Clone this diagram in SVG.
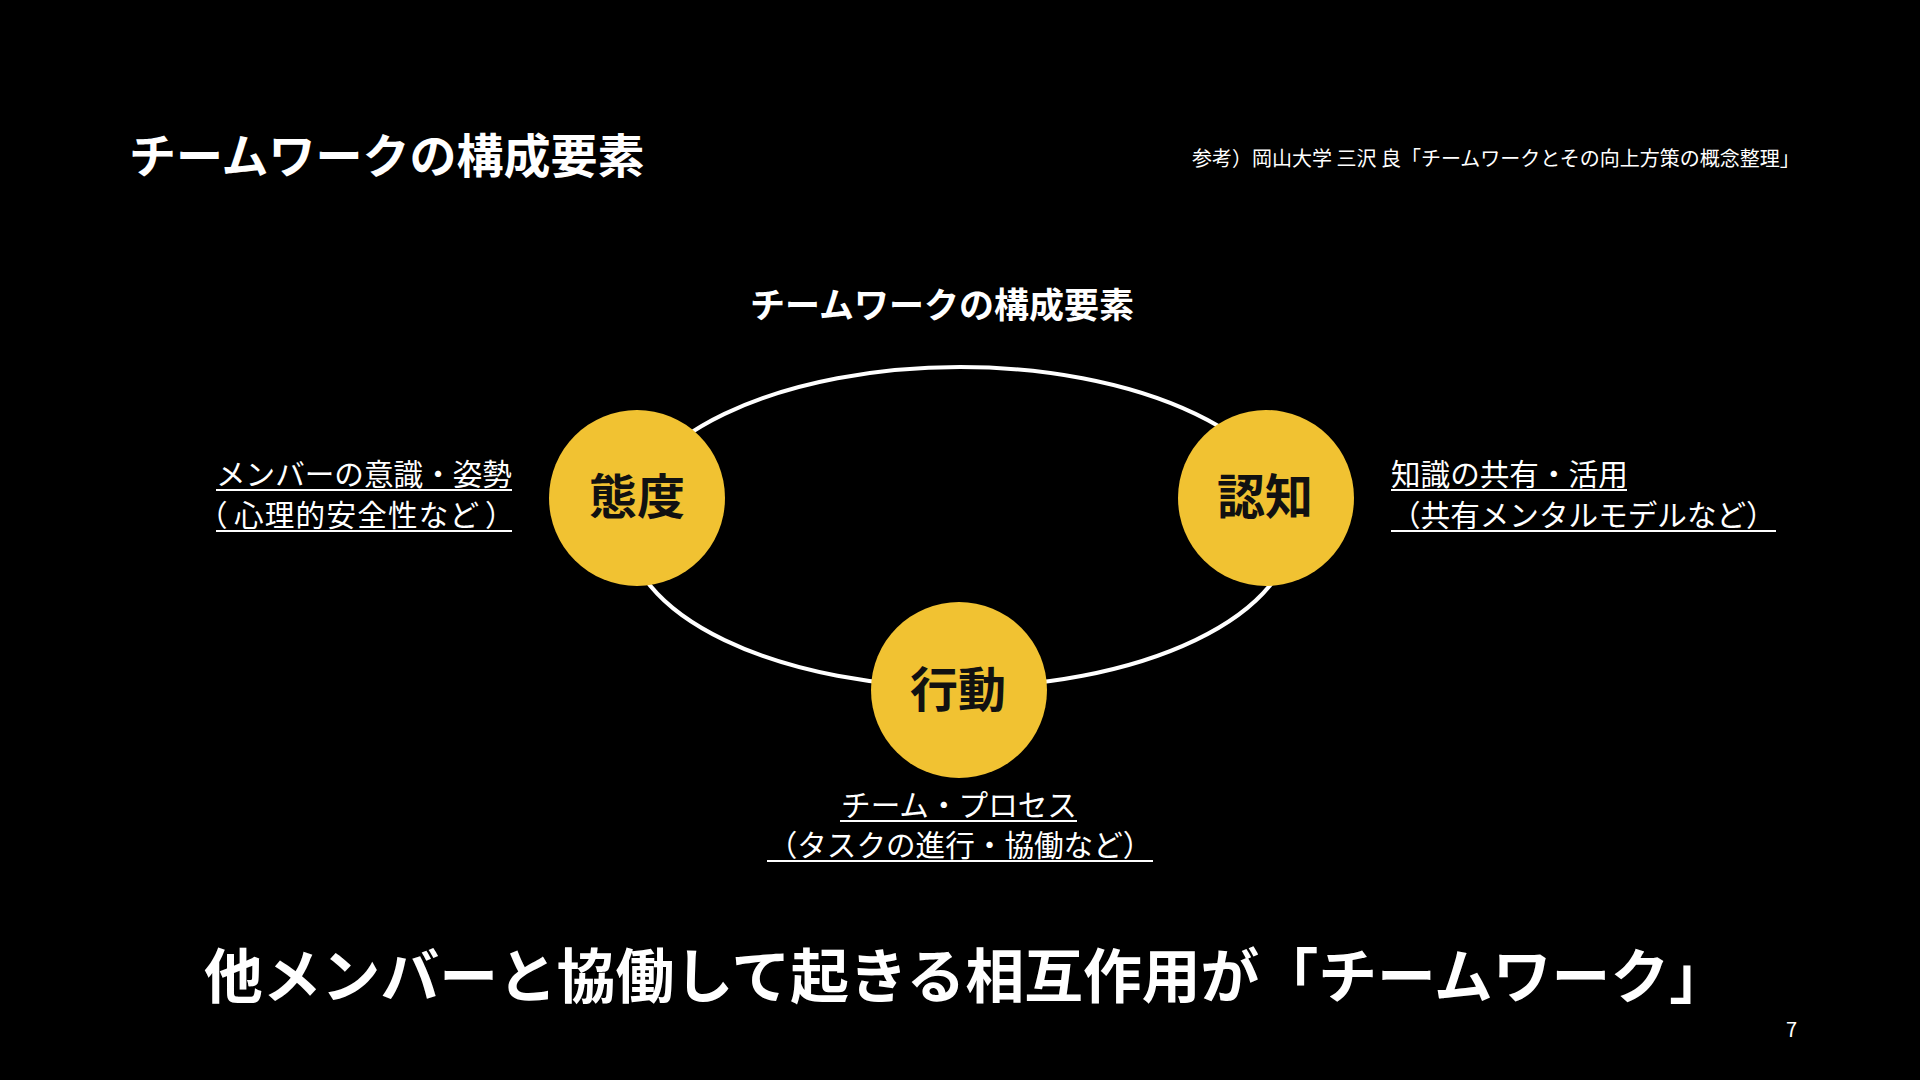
<svg xmlns="http://www.w3.org/2000/svg" width="1920" height="1080" viewBox="0 0 1920 1080">
<style>
text{font-family:"Noto Sans CJK JP","Noto Sans",sans-serif;fill:#ffffff}
.b{font-weight:700}
.lbl{font-size:29.6px;font-weight:400}
.node circle{fill:#F1C232}
.node text{fill:#111111;font-size:48px;font-weight:700;text-anchor:middle}
.ul{stroke:#ffffff;stroke-width:2}
.ring{fill:none;stroke:#ffffff;stroke-width:4}
</style>
<rect width="1920" height="1080" fill="#000000"/>
<text class="b" x="129" y="173" font-size="47">チームワークの構成要素</text>
<text x="1192" y="166" font-size="20">参考）岡山大学 三沢 良「チームワークとその向上方策の概念整理」</text>
<text class="b" x="942" y="318" font-size="35" text-anchor="middle">チームワークの構成要素</text>
<g id="connectors">
<ellipse class="ring" cx="960" cy="527" rx="333" ry="160"/>
</g>
<g id="node-taido" class="node">
<circle cx="637" cy="498" r="88"/>
<text x="637" y="514">態度</text>
</g>
<g id="node-ninchi" class="node">
<circle cx="1266" cy="498" r="88"/>
<text x="1265" y="514">認知</text>
</g>
<g id="node-kodo" class="node">
<circle cx="959" cy="690" r="88"/>
<text x="958" y="707">行動</text>
</g>
<g id="label-taido">
<text class="lbl" x="216" y="485">メンバーの意識・姿勢</text>
<text class="lbl" x="198" y="526">（<tspan x="234" letter-spacing="1.2">心理的安全性など</tspan><tspan x="485">）</tspan></text>
<line class="ul" x1="216" y1="490" x2="512" y2="490"/>
<line class="ul" x1="216" y1="531" x2="512" y2="531"/>
</g>
<g id="label-ninchi">
<text class="lbl" x="1391" y="485">知識の共有・活用</text>
<text class="lbl" x="1391" y="526">（共有メンタルモデルなど）</text>
<line class="ul" x1="1391" y1="490" x2="1627" y2="490"/>
<line class="ul" x1="1391" y1="531" x2="1776" y2="531"/>
</g>
<g id="label-kodo">
<text class="lbl" x="959" y="816" text-anchor="middle">チーム・プロセス</text>
<text class="lbl" x="960" y="856" text-anchor="middle">（タスクの進行・協働など）</text>
<line class="ul" x1="840" y1="821" x2="1077" y2="821"/>
<line class="ul" x1="767" y1="861" x2="1153" y2="861"/>
</g>
<text class="b" x="204" y="998" font-size="58.8">他メンバーと協働して起きる相互作用が「チームワーク」</text>
<text x="1786" y="1037" font-size="20">7</text>
</svg>
